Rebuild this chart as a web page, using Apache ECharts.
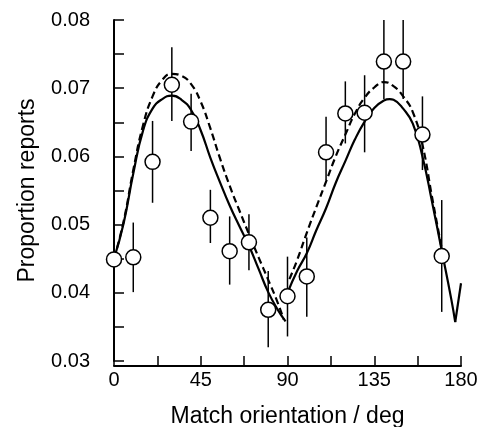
<!DOCTYPE html>
<html>
<head>
<meta charset="utf-8">
<script src="https://cdn.jsdelivr.net/npm/echarts@6/dist/echarts.min.js"></script>
<style>
  html, body { margin: 0; padding: 0; background: #fff; }
  #chart { width: 480px; height: 427px; }
</style>
</head>
<body>
<div id="chart"></div>
<script>
// measured points: orientation, proportion, error bar low / high
const orientations = [0, 10, 20, 30, 40, 50, 60, 70, 80, 90, 100, 110, 120, 130, 140, 150, 160, 170]
const proportions = [0.0449, 0.0452, 0.0592, 0.0705, 0.0651, 0.0510, 0.0461, 0.0474, 0.0375, 0.0395, 0.0424, 0.0606, 0.0663, 0.0664, 0.0739, 0.0739, 0.0632, 0.0454]
const errLow = [0.0400, 0.0401, 0.0532, 0.0652, 0.0608, 0.0473, 0.0412, 0.0433, 0.0320, 0.0336, 0.0365, 0.0565, 0.0619, 0.0606, 0.0684, 0.0684, 0.0580, 0.0372]
const errHigh = [0.0500, 0.0503, 0.0652, 0.0760, 0.0692, 0.0551, 0.0512, 0.0515, 0.0432, 0.0453, 0.0481, 0.0658, 0.0710, 0.0719, 0.0800, 0.0800, 0.0688, 0.0536]

// fitted curves
const solidX1 = [0, 5, 10, 15, 20, 25, 30, 35, 40, 45, 50, 55, 60, 65, 70, 75, 80, 85, 89]
const solidY1 = [0.0450, 0.0502, 0.0575, 0.0637, 0.0670, 0.0684, 0.0689, 0.0683, 0.0668, 0.0638, 0.0598, 0.0562, 0.0528, 0.0498, 0.0469, 0.0435, 0.0401, 0.0375, 0.0358]
const solidX2 = [90, 95, 100, 105, 110, 115, 120, 125, 130, 135, 140, 143, 145, 150, 155, 160, 165, 170, 175, 177]
const solidY2 = [0.0400, 0.0432, 0.0458, 0.0492, 0.0524, 0.0561, 0.0593, 0.0625, 0.0651, 0.0671, 0.0682, 0.0684, 0.0683, 0.0670, 0.0648, 0.0600, 0.0533, 0.0462, 0.0390, 0.0357]
const tailX = [177, 180]
const tailY = [0.0357, 0.0414]

const dashX1 = [0, 5, 10, 15, 20, 25, 30, 35, 40, 45, 50, 55, 60, 65, 70, 75, 80, 85, 88]
const dashY1 = [0.0450, 0.0505, 0.0580, 0.0645, 0.0688, 0.0712, 0.0721, 0.0718, 0.0706, 0.0680, 0.0641, 0.0597, 0.0557, 0.0521, 0.0486, 0.0452, 0.0419, 0.0385, 0.0361]
const dashX2 = [91, 95, 100, 105, 110, 115, 120, 125, 130, 135, 140, 145, 150, 155, 160, 165, 170]
const dashY2 = [0.0420, 0.0448, 0.0488, 0.0526, 0.0563, 0.0600, 0.0632, 0.0663, 0.0686, 0.0701, 0.0709, 0.0703, 0.0688, 0.0665, 0.0617, 0.0540, 0.0465]

const zip = (xs, ys) => xs.map((x, i) => [x, ys[i]])
const font = 'Liberation Sans, Arial, Helvetica, sans-serif'

const lineSeries = (xs, ys, dashed, smooth) => ({
    type: 'line',
    data: zip(xs, ys),
    smooth: smooth,
    showSymbol: false,
    silent: true,
    z: 3,
    lineStyle: {
        color: '#000',
        width: 2.2,
        type: dashed ? [7, 4] : 'solid'
    }
})

const chart = echarts.init(document.getElementById('chart'))
chart.setOption({
    animation: false,
    backgroundColor: '#fff',
    grid: {
        left: 114,
        right: 19,
        top: 20,
        bottom: 66,
        containLabel: false,
        outerBoundsMode: 'none'
    },
    xAxis: {
        type: 'value',
        min: 0,
        max: 180,
        interval: 45,
        offset: 5,
        name: 'Match orientation / deg',
        nameLocation: 'middle',
        nameGap: 39,
        nameTextStyle: { color: '#000', fontSize: 23, fontFamily: font },
        axisLine: { lineStyle: { color: '#000', width: 2 } },
        axisTick: { inside: true, length: 10, lineStyle: { color: '#000', width: 1.5 } },
        minorTick: { show: true, splitNumber: 2, length: 10, lineStyle: { color: '#000', width: 1.5 } },
        axisLabel: { color: '#000', fontSize: 20, fontFamily: font, margin: 4 },
        splitLine: { show: false }
    },
    yAxis: {
        type: 'value',
        min: 0.03,
        max: 0.08,
        interval: 0.01,
        offset: 19,
        name: 'Proportion reports',
        nameLocation: 'middle',
        nameRotate: 90,
        nameGap: 56,
        nameTextStyle: { color: '#000', fontSize: 23, fontFamily: font },
        axisLine: { show: true, lineStyle: { color: '#000', width: 2 } },
        axisTick: { show: true, inside: true, length: 10, lineStyle: { color: '#000', width: 1.5 } },
        minorTick: { show: true, splitNumber: 2, length: 10, lineStyle: { color: '#000', width: 1.5 } },
        axisLabel: { color: '#000', fontSize: 20, fontFamily: font, margin: 5, formatter: v => v.toFixed(2) },
        splitLine: { show: false }
    },
    series: [
        {
            // error bars
            type: 'custom',
            silent: true,
            z: 2,
            data: orientations.map((x, i) => [x, errLow[i], errHigh[i]]),
            renderItem: (params, api) => {
                const lo = api.coord([api.value(0), api.value(1)])
                const hi = api.coord([api.value(0), api.value(2)])
                return {
                    type: 'line',
                    shape: { x1: lo[0], y1: lo[1], x2: hi[0], y2: hi[1] },
                    style: { stroke: '#000', lineWidth: 1.5 }
                }
            }
        },
        lineSeries(solidX1, solidY1, false, true),
        lineSeries(solidX2, solidY2, false, true),
        lineSeries(tailX, tailY, false, false),
        lineSeries(dashX1, dashY1, true, true),
        lineSeries(dashX2, dashY2, true, true),
        {
            type: 'scatter',
            data: zip(orientations, proportions),
            symbol: 'circle',
            symbolSize: 15,
            silent: true,
            z: 5,
            itemStyle: { color: '#fff', borderColor: '#000', borderWidth: 1.5, opacity: 1 }
        }
    ]
})
</script>
</body>
</html>
